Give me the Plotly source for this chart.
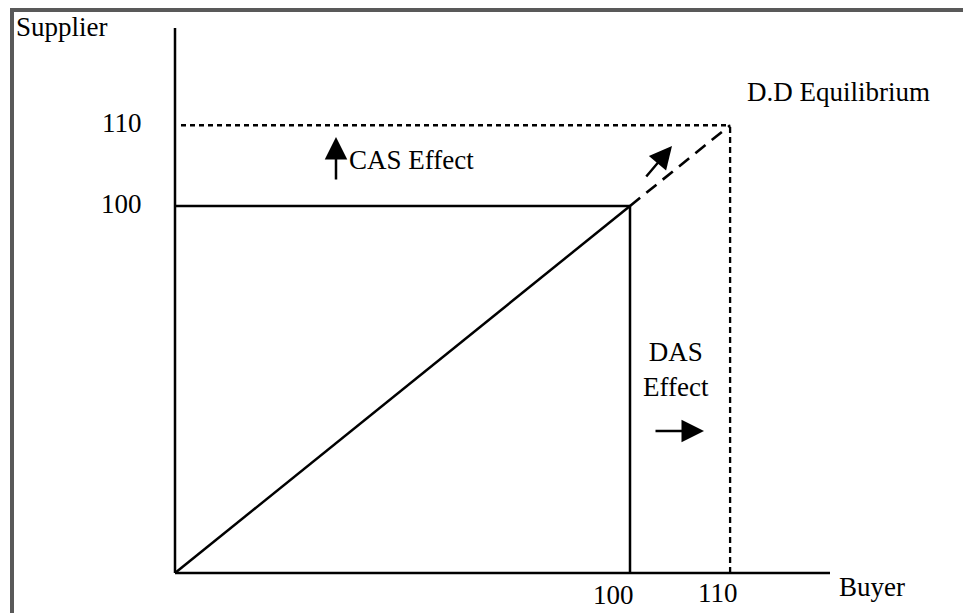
import plotly.graph_objects as go

# ---------------- data ----------------
buyer_ticks = [100, 110]          # tick labels on the Buyer (x) axis
supplier_ticks = [100, 110]       # tick labels on the Supplier (y) axis
initial_eq = (100, 100)           # (buyer, supplier) initial equilibrium
dd_eq = (110, 110)                # D.D Equilibrium
axis_labels = ["Buyer", "Supplier"]
notes = ["CAS Effect", "DAS<br>Effect", "D.D Equilibrium"]

# ------------- schematic scale -------------
# the diagram is not to scale: values above 100 are stretched
def s(v):
    return v if v <= 100 else 100 + (v - 100) * 2.2

W, H = 963, 613
X0, X100, Y0, Y100 = 175, 630, 573, 206
kx = (X100 - X0) / 100.0
ky = (Y0 - Y100) / 100.0
xr = [-X0 / kx, (W - X0) / kx]
yr = [-(H - Y0) / ky, Y0 / ky]

def px(xp):
    return (xp - X0) / kx

def py(yp):
    return (Y0 - yp) / ky

FONT = "Liberation Serif, Times New Roman, serif"
FS = 27
BLACK = "#000000"

fig = go.Figure()

def line(xs, ys, width=2.5, dash="solid"):
    fig.add_trace(go.Scatter(x=xs, y=ys, mode="lines",
                             line=dict(color=BLACK, width=width, dash=dash),
                             hoverinfo="skip", showlegend=False))

bx, sy = initial_eq
dx, dy = dd_eq
x_end = px(830)
y_end = py(28)

# axes
line([0, 0], [0, y_end])
line([0, x_end], [0, 0])
# initial equilibrium box + diagonal
line([0, s(bx)], [s(sy), s(sy)])
line([s(bx), s(bx)], [0, s(sy)])
line([0, s(bx)], [0, s(sy)])
# D.D equilibrium dashed
line([px(181), s(dx)], [s(dy), s(dy)], width=2.3, dash="5px,4px")
line([s(dx), s(dx)], [0, s(dy)], width=2.3, dash="6px,4px")
line([s(bx), s(dx)], [s(sy), s(dy)], width=2.6, dash="13px,8px")

ann = []
# tick labels
ann.append(dict(x=0, y=s(supplier_ticks[0]), text=str(supplier_ticks[0]),
                xanchor="right", yanchor="middle", xshift=-31, yshift=2))
ann.append(dict(x=0, y=s(supplier_ticks[1]), text=str(supplier_ticks[1]),
                xanchor="right", yanchor="middle", xshift=-31, yshift=2))
ann.append(dict(x=s(buyer_ticks[0]), y=0, text=str(buyer_ticks[0]),
                xanchor="center", yanchor="middle", xshift=-17, yshift=-22))
ann.append(dict(x=s(buyer_ticks[1]), y=0, text=str(buyer_ticks[1]),
                xanchor="center", yanchor="middle", xshift=-12, yshift=-20))
# axis titles
ann.append(dict(x=px(837), y=0, text=axis_labels[0],
                xanchor="left", yanchor="middle", yshift=-14))
ann.append(dict(x=px(14), y=py(27), text=axis_labels[1],
                xanchor="left", yanchor="middle"))
# notes
ann.append(dict(x=px(347), y=py(160), text=notes[0],
                xanchor="left", yanchor="middle"))
ann.append(dict(x=px(676), y=py(369), text=notes[1],
                xanchor="center", yanchor="middle"))
ann.append(dict(x=px(745), y=py(92), text=notes[2],
                xanchor="left", yanchor="middle"))
for a in ann:
    a.update(showarrow=False, font=dict(family=FONT, size=FS, color=BLACK))

# arrows
arrows = [((336, 137), (336, 181)), ((672, 146), (645, 178)), ((704, 431), (654, 431))]
for (hx, hy), (tx, ty) in arrows:
    ann.append(dict(x=px(hx), y=py(hy), ax=px(tx), ay=py(ty),
                    xref="x", yref="y", axref="x", ayref="y",
                    showarrow=True, arrowhead=2, arrowsize=1.8, arrowwidth=2.5,
                    arrowcolor=BLACK, standoff=0, startstandoff=0, text=""))

BORDER = "#595959"
shapes = [
    dict(type="line", xref="paper", yref="paper",
         x0=10 / W, x1=1.0, y0=1 - 10 / H, y1=1 - 10 / H,
         line=dict(color=BORDER, width=4)),
    dict(type="line", xref="paper", yref="paper",
         x0=12 / W, x1=12 / W, y0=0, y1=1 - 8 / H,
         line=dict(color=BORDER, width=4)),
]

fig.update_layout(
    width=W, height=H,
    margin=dict(l=0, r=0, t=0, b=0),
    paper_bgcolor="white", plot_bgcolor="white",
    xaxis=dict(range=xr, visible=False, fixedrange=True),
    yaxis=dict(range=yr, visible=False, fixedrange=True),
    annotations=ann, shapes=shapes, showlegend=False,
)

fig.write_html("out.html", config={"displayModeBar": False},
               post_script="document.body.style.margin='0';"
                           "document.body.style.overflow='hidden';"
                           "document.documentElement.style.overflow='hidden';"
                           "document.documentElement.style.background='white';")
